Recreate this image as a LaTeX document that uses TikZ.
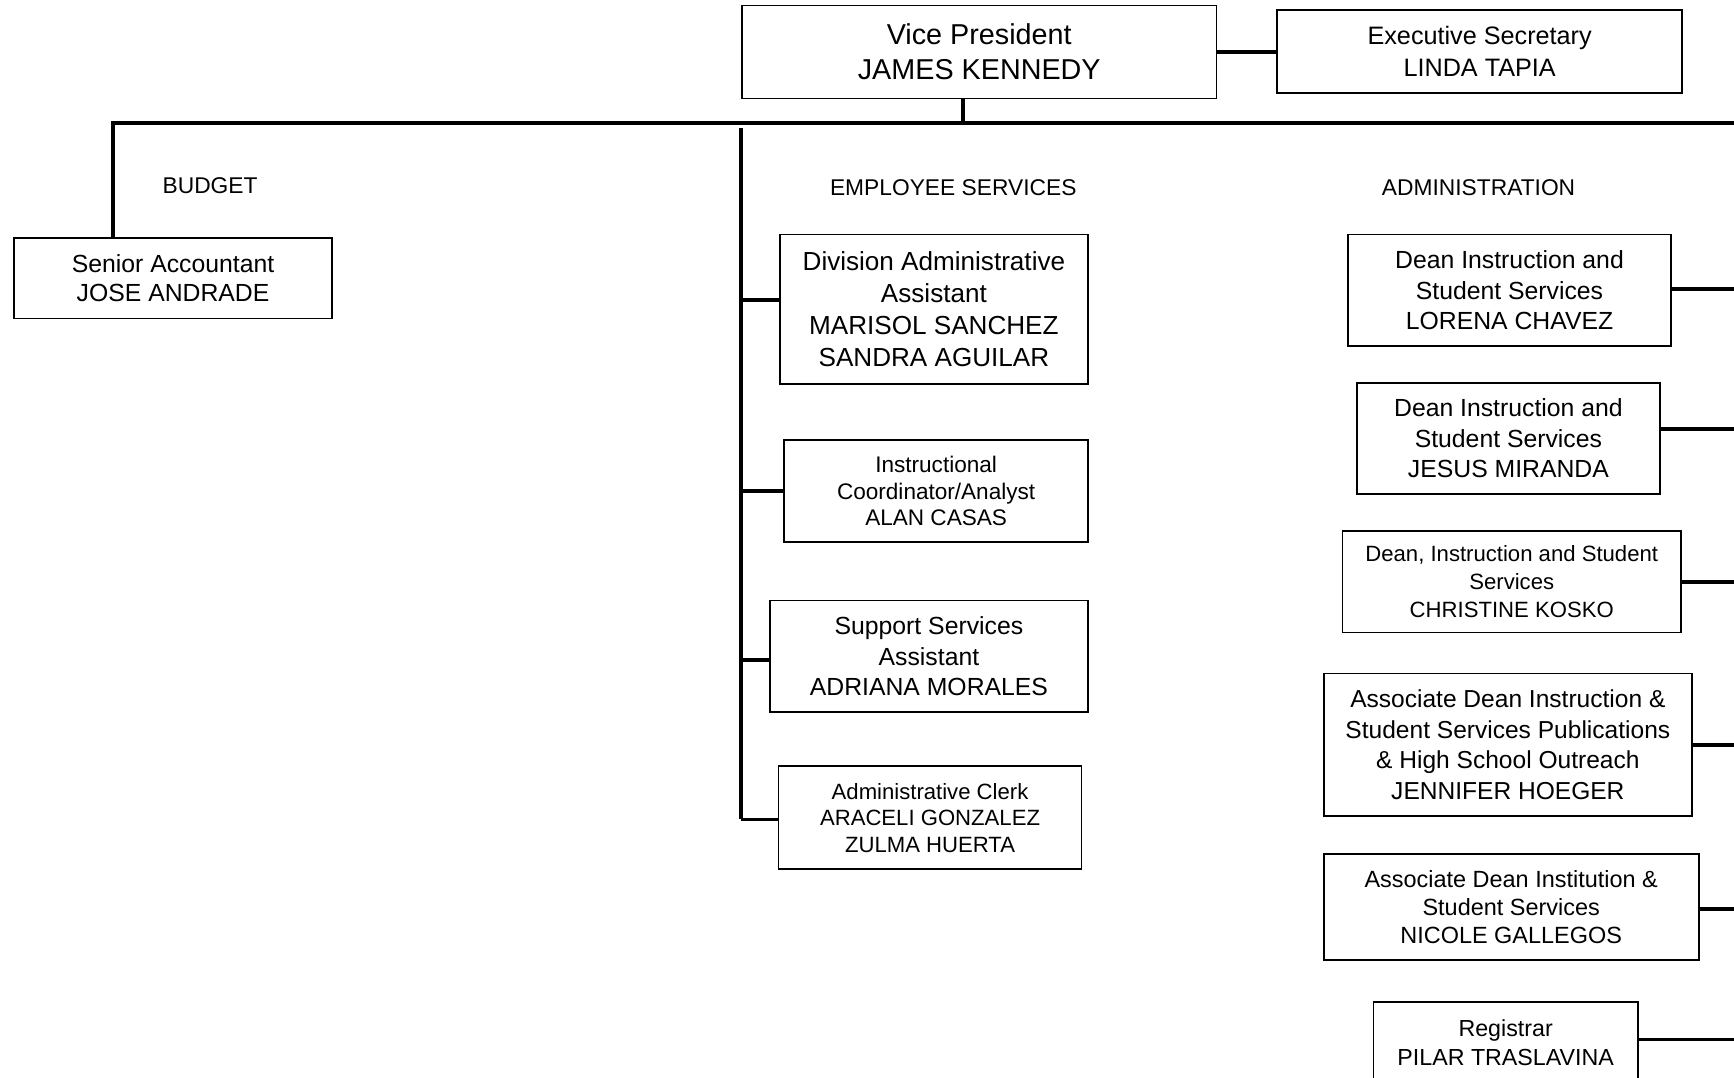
\documentclass[tikz,border=0pt]{standalone}
\usepackage{fontspec}
\setmainfont{Liberation Sans}
\usetikzlibrary{positioning}

\begin{document}
\begin{tikzpicture}[x=0.5pt, y=-0.5pt,
        orgbox/.style={rectangle, draw, line width=0.8pt, align=center, inner sep=0pt},
        boxsize/.style 2 args={minimum width=#1*0.5pt, minimum height=#2*0.5pt},
        fs/.style 2 args={font=\fontsize{#1}{#2}\selectfont},
        grouptitle/.style={align=center, font=\fontsize{10.3}{12}\selectfont},
        link/.style={line width=1.7pt}
    ]
    \useasboundingbox (0,0) rectangle (1568,974);

    % top
    \node[orgbox, boxsize={429}{84}, fs={13}{16}] (vp) at (885.5,47) {Vice President\\JAMES KENNEDY};
    \node[orgbox, boxsize={366}{75}, fs={11.4}{14.5}] (secretary) at (1338,46.5) {Executive Secretary\\LINDA TAPIA};

    % group titles
    \node[grouptitle] (budget) at (190,168) {BUDGET};
    \node[grouptitle] (employee) at (862,170) {EMPLOYEE SERVICES};
    \node[grouptitle] (admin) at (1337,170) {ADMINISTRATION};

    % budget
    \node[orgbox, boxsize={287}{73}, fs={11.2}{13.5}] (accountant) at (156.5,251.5) {Senior Accountant\\JOSE ANDRADE};

    % employee services
    \node[orgbox, boxsize={279}{135}, fs={11.8}{14.5}] (divasst) at (844.5,279.5) {Division Administrative\\Assistant\\MARISOL SANCHEZ\\SANDRA AGUILAR};
    \node[orgbox, boxsize={275}{92}, fs={10.2}{12}] (analyst) at (846.5,444) {Instructional\\Coordinator/Analyst\\ALAN CASAS};
    \node[orgbox, boxsize={288}{101}, fs={11.2}{13.75}] (support) at (840,593.5) {Support Services\\Assistant\\ADRIANA MORALES};
    \node[orgbox, boxsize={274}{93}, fs={10}{12}] (clerk) at (841,739.5) {Administrative Clerk\\ARACELI GONZALEZ\\ZULMA HUERTA};

    % administration
    \node[orgbox, boxsize={292}{101}, fs={11.2}{13.75}] (deanA) at (1365,262.5) {Dean Instruction and\\Student Services\\LORENA CHAVEZ};
    \node[orgbox, boxsize={274}{101}, fs={11.2}{13.75}] (deanB) at (1364,396.5) {Dean Instruction and\\Student Services\\JESUS MIRANDA};
    \node[orgbox, boxsize={306}{92}, fs={10}{12.5}] (deanC) at (1367,526) {Dean, Instruction and Student\\Services\\CHRISTINE KOSKO};
    \node[orgbox, boxsize={333}{129}, fs={11.1}{13.75}] (assocA) at (1363.5,673.5) {Associate Dean Instruction \&\\Student Services Publications\\\& High School Outreach\\JENNIFER HOEGER};
    \node[orgbox, boxsize={339}{96}, fs={10.6}{12.75}] (assocB) at (1366.5,820) {Associate Dean Institution \&\\Student Services\\NICOLE GALLEGOS};
    \node[orgbox, boxsize={239}{74}, fs={10.5}{13}] (registrar) at (1361.5,943) {Registrar\\PILAR TRASLAVINA};

    % bus points
    \coordinate (busL) at (102,111);
    \coordinate (busV) at (871,111);
    \coordinate (busR) at (1568,111);
    \coordinate (esTop) at (670,116);
    \coordinate (esBot) at (670,741);
    \coordinate (edgeR) at (1568,0);

    % connections
    \draw[link] (vp.east) -- (vp.east -| secretary.west);
    \draw[link] (vp.south -| busV) -- (busV);
    \draw[link] (accountant.north -| busL) -- (busL) -- (busR);
    \draw[link] (esTop) -- (esBot);
    \foreach \n/\dy in {divasst/4.25pt, analyst/0pt, support/-1.75pt, clerk/-0.75pt}
        \draw[link] ([yshift=\dy]\n.west -| esTop) -- ([yshift=\dy]\n.west);
    \foreach \n/\dy in {deanA/0.75pt, deanB/4.25pt, deanC/0pt, assocA/0pt, assocB/-1pt, registrar/1.5pt}
        \draw[link] ([yshift=\dy]\n.east) -- ([yshift=\dy]\n.east -| edgeR);

\end{tikzpicture}
\end{document}
